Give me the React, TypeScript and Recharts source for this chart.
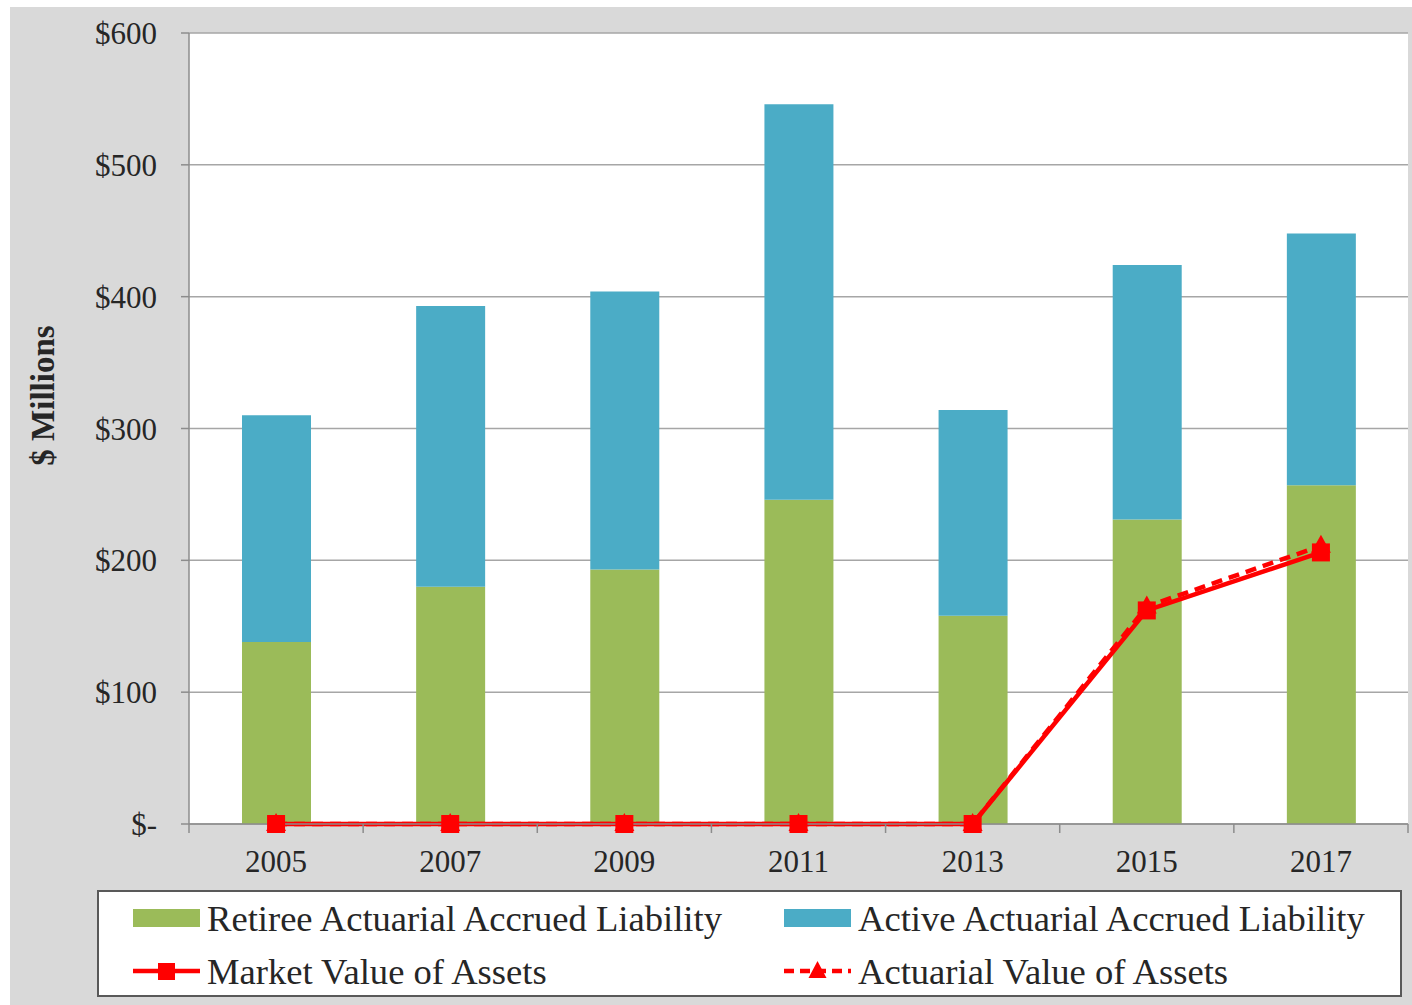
import React from 'react';
import { ComposedChart, Bar, Line, XAxis, YAxis, CartesianGrid, Legend } from 'recharts';

// Valuation years
const years = ['2005', '2007', '2009', '2011', '2013', '2015', '2017'];
// Liabilities ($ millions)
const retireeLiability = [138, 180, 193, 246, 158, 231, 257];
const activeLiability = [172, 213, 211, 300, 156, 193, 191];
// Assets ($ millions)
const marketValue = [0, 0, 0, 0, 0, 162, 206];
const actuarialValue = [0, 0, 0, 0, 0, 165, 211];
// Y-axis ticks
const yTicks = [0, 100, 200, 300, 400, 500, 600];

const seriesNames = {
  retiree: 'Retiree Actuarial Accrued Liability',
  active: 'Active Actuarial Accrued Liability',
  market: 'Market Value of Assets',
  actuarial: 'Actuarial Value of Assets',
};

const GREEN = '#9BBB59';
const BLUE = '#4BACC6';
const RED = '#FF0000';
const SERIF = '"Liberation Serif", "Times New Roman", serif';
const TEXT = '#262626';

const data = years.map((year, i) => ({
  year,
  retiree: retireeLiability[i],
  active: activeLiability[i],
  market: marketValue[i],
  actuarial: actuarialValue[i],
}));

const formatDollar = (v: number) => (v === 0 ? '$-' : `$${v}`);

const SquareDot = (props: any) => {
  const { cx, cy } = props;
  if (cx == null || cy == null) return null;
  return <rect x={cx - 9} y={cy - 9} width={18} height={18} fill={RED} />;
};

const TriangleDot = (props: any) => {
  const { cx, cy } = props;
  if (cx == null || cy == null) return null;
  return <polygon points={`${cx},${cy - 11} ${cx + 10},${cy + 7} ${cx - 10},${cy + 7}`} fill={RED} />;
};

const TICK_SIZE = 8;

// Category tick: label centred under the bar, tick marks on category boundaries
const XTick = (props: any) => {
  const { x, y, payload, index, visibleTicksCount } = props;
  const half = payload && payload.offset ? payload.offset : 87;
  const axisY = y - TICK_SIZE;
  const isLast = index === visibleTicksCount - 1;
  return (
    <g>
      <line x1={x - half} y1={axisY} x2={x - half} y2={axisY + 9} stroke="#8c8c8c" strokeWidth={1.5} />
      {isLast && <line x1={x + half} y1={axisY} x2={x + half} y2={axisY + 9} stroke="#8c8c8c" strokeWidth={1.5} />}
      <text x={x} y={y + 40} textAnchor="middle" fontFamily={SERIF} fontSize={31} fill={TEXT}>
        {payload.value}
      </text>
    </g>
  );
};

const YLabel = (props: any) => {
  const { viewBox } = props;
  const cx = 33;
  const cy = viewBox.y + viewBox.height / 2 - 33;
  return (
    <text
      x={cx}
      y={cy}
      transform={`rotate(-90, ${cx}, ${cy})`}
      textAnchor="middle"
      dominantBaseline="central"
      fontFamily={SERIF}
      fontWeight="bold"
      fontSize={33}
      fill={TEXT}
    >
      $ Millions
    </text>
  );
};

const SwatchIcon = ({ color }: { color: string }) => (
  <svg width={67} height={20} style={{ display: 'block' }}>
    <rect x={0} y={1} width={67} height={18} fill={color} />
  </svg>
);

const LineIcon = ({ marker, dashed }: { marker: 'square' | 'triangle'; dashed?: boolean }) => (
  <svg width={67} height={24} style={{ display: 'block' }}>
    <line x1={0} y1={12} x2={67} y2={12} stroke={RED} strokeWidth={4.5} strokeDasharray={dashed ? '10 6' : undefined} />
    {marker === 'square' ? (
      <rect x={25} y={4} width={17} height={17} fill={RED} />
    ) : (
      <polygon points="33.5,2 42.5,19 24.5,19" fill={RED} />
    )}
  </svg>
);

const LegendItem = ({ left, top, icon, label }: { left: number; top: number; icon: React.ReactNode; label: string }) => (
  <div style={{ position: 'absolute', left, top, display: 'flex', alignItems: 'center', height: 40 }}>
    {icon}
    <span style={{ marginLeft: 7, whiteSpace: 'nowrap' }}>{label}</span>
  </div>
);

const LegendBox = () => (
  <div
    style={{
      position: 'relative',
      width: 1305,
      height: 107,
      boxSizing: 'border-box',
      background: '#ffffff',
      border: '2px solid #595959',
      fontFamily: SERIF,
      fontSize: 36.6,
      color: TEXT,
    }}
  >
    <LegendItem left={34} top={6} icon={<SwatchIcon color={GREEN} />} label={seriesNames.retiree} />
    <LegendItem left={685} top={6} icon={<SwatchIcon color={BLUE} />} label={seriesNames.active} />
    <LegendItem left={34} top={59} icon={<LineIcon marker="square" />} label={seriesNames.market} />
    <LegendItem left={685} top={59} icon={<LineIcon marker="triangle" dashed />} label={seriesNames.actuarial} />
  </div>
);

export default function App() {
  return (
    <div style={{ position: 'absolute', left: 0, top: 0, width: 1412, height: 1005, background: '#ffffff' }}>
      <div style={{ position: 'absolute', left: 10, top: 7, width: 1402, height: 998, background: '#d9d9d9' }}>
        <ComposedChart
          width={1402}
          height={998}
          data={data}
          margin={{ top: 26, right: 4, left: 0, bottom: 151 }}
          barCategoryGap={0}
        >
          <CartesianGrid vertical={false} stroke="#a6a6a6" strokeWidth={1.5} fill="#ffffff" />
          <XAxis
            dataKey="year"
            height={30}
            tickSize={TICK_SIZE}
            tickMargin={0}
            tickLine={false}
            axisLine={{ stroke: '#8c8c8c', strokeWidth: 1.5 }}
            tick={<XTick />}
            interval={0}
          />
          <YAxis
            width={179}
            domain={[0, 600]}
            ticks={yTicks}
            tickFormatter={formatDollar}
            tickSize={TICK_SIZE}
            tickMargin={24}
            axisLine={{ stroke: '#8c8c8c', strokeWidth: 1.5 }}
            tickLine={{ stroke: '#8c8c8c', strokeWidth: 1.5 }}
            tick={{ fontFamily: SERIF, fontSize: 31, fill: TEXT }}
            label={<YLabel />}
          />
          <Legend
            layout="horizontal"
            verticalAlign="middle"
            align="center"
            wrapperStyle={{ position: 'absolute', left: 87, top: 883, width: 1305, height: 107 }}
            content={<LegendBox />}
          />
          <Bar dataKey="retiree" name={seriesNames.retiree} stackId="liab" fill={GREEN} barSize={69} isAnimationActive={false} />
          <Bar dataKey="active" name={seriesNames.active} stackId="liab" fill={BLUE} barSize={69} isAnimationActive={false} />
          <Line
            dataKey="actuarial"
            name={seriesNames.actuarial}
            stroke={RED}
            strokeWidth={4.5}
            strokeDasharray="11 7"
            dot={<TriangleDot />}
            activeDot={false}
            isAnimationActive={false}
          />
          <Line
            dataKey="market"
            name={seriesNames.market}
            stroke={RED}
            strokeWidth={4.5}
            dot={<SquareDot />}
            activeDot={false}
            isAnimationActive={false}
          />
        </ComposedChart>
      </div>
    </div>
  );
}
